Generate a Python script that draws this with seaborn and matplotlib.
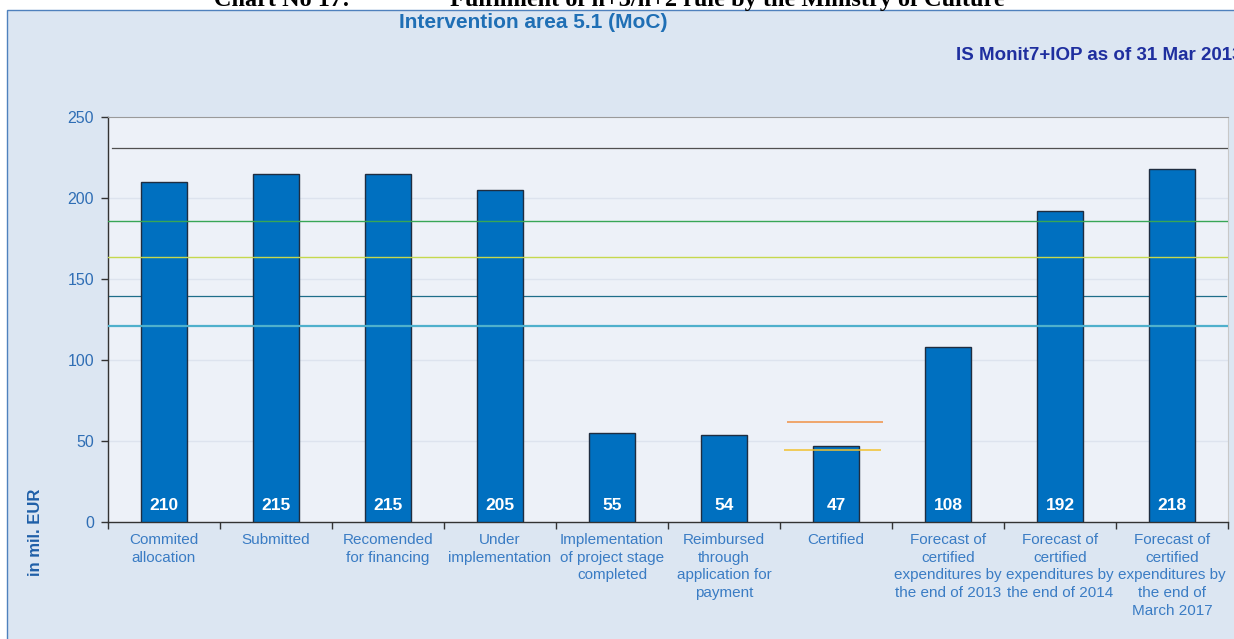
import matplotlib
matplotlib.use("Agg")
import matplotlib.pyplot as plt
import seaborn as sns
import pandas as pd
import numpy as np
from matplotlib.patches import Rectangle

categories = [
    "Commited\nallocation",
    "Submitted",
    "Recomended\nfor financing",
    "Under\nimplementation",
    "Implementation\nof project stage\ncompleted",
    "Reimbursed\nthrough\napplication for\npayment",
    "Certified",
    "Forecast of\ncertified\nexpenditures by\nthe end of 2013",
    "Forecast of\ncertified\nexpenditures by\nthe end of 2014",
    "Forecast of\ncertified\nexpenditures by\nthe end of\nMarch 2017",
]
values = [210, 215, 215, 205, 55, 54, 47, 108, 192, 218]
y_ticks = [0, 50, 100, 150, 200, 250]
# reference levels across the whole chart
level_black = 231
level_green = 186
level_yellowgreen = 163.5
level_teal = 139.5
level_cyan = 121
# reference levels at the "Certified" bar
level_orange = 62
level_gold = 44.5

sans = ["Liberation Sans", "DejaVu Sans"]
serif = ["Liberation Serif", "DejaVu Serif"]
plt.rcParams["font.family"] = sans

W, H = 1234, 639
fig = plt.figure(figsize=(W / 100, H / 100), dpi=100, facecolor="white")

# outer panel drawn in a background axes
bg = fig.add_axes([0, 0, 1, 1], zorder=-5)
bg.set_xlim(0, W)
bg.set_ylim(H, 0)
bg.axis("off")
bg.add_patch(Rectangle((7, 9.5), W, H, facecolor="#dce6f2", edgecolor="#4f81bd", linewidth=1.0))

ax = fig.add_axes([108 / W, 1 - 522 / H, (1228 - 108) / W, (522 - 117) / H], zorder=2)
ax.set_facecolor("#edf1f8")

df = pd.DataFrame({"cat": categories, "val": values})
sns.barplot(data=df, x="cat", y="val", ax=ax, color="#0070c0", saturation=1,
            width=0.41, edgecolor="#1f2d40", linewidth=1.0, zorder=3)

ax.set_xlim(-0.5, len(categories) - 0.5)
ax.set_ylim(0, 250)

# faint grid
for t in y_ticks[1:-1]:
    ax.axhline(t, color="#dde3ee", linewidth=1.0, zorder=1)

# reference lines
ax.axhline(level_black, xmin=0.004, xmax=1, color="#505050", linewidth=0.9, zorder=4)
ax.axhline(level_green, color="#38a656", linewidth=1.0, zorder=4)
ax.axhline(level_yellowgreen, color="#c6d84e", linewidth=1.0, zorder=4)
ax.axhline(level_teal, xmax=0.998, color="#1e6e8a", linewidth=0.9, zorder=2)
ax.axhline(level_cyan, color="#4fb0cc", linewidth=1.6, zorder=4)
ci = categories.index("Certified")
ax.hlines(level_orange, ci - 0.44, ci + 0.42, color="#f0a060", linewidth=1.3, zorder=4)
ax.hlines(level_gold, ci - 0.46, ci + 0.40, color="#f2c12e", linewidth=1.1, zorder=4)

# value labels
for i, v in enumerate(values):
    ax.text(i, 10, str(v), ha="center", va="center", color="white", fontsize=12.5,
            fontweight="bold", family=sans, zorder=5)

# axes styling
ax.set_yticks(y_ticks)
ax.set_yticklabels([str(t) for t in y_ticks], color="#2f6eb5", fontsize=11.5)
ax.tick_params(axis="y", direction="out", length=5, width=1, color="#333333", pad=5)
ax.set_xticks(range(len(categories)))
ax.set_xticklabels(categories, color="#3a7cc4", fontsize=11, linespacing=1.33)
ax.tick_params(axis="x", which="major", length=0, pad=8)
ax.set_xticks(np.arange(-0.5, len(categories), 1), minor=True)
ax.tick_params(axis="x", which="minor", direction="out", length=5, width=1, color="#333333")
ax.set_xlabel("")
ax.set_ylabel("")
for s in ["left", "bottom"]:
    ax.spines[s].set_color("#333333")
    ax.spines[s].set_linewidth(1.0)
ax.spines["top"].set_color("#9a9a9a")
ax.spines["right"].set_color("#c8c8c8")
ax.grid(False)

# texts
fig.text(35 / W, 1 - 532 / H, "in mil. EUR", rotation=90, ha="center", va="center",
         color="#1f5fa8", fontsize=12, fontweight="bold", family=sans)
fig.text(533 / W, 1 - 23 / H, "Intervention area 5.1 (MoC)", ha="center", va="center",
         color="#1f6fb5", fontsize=15, fontweight="bold", family=sans)
fig.text(956 / W, 1 - 55 / H, "IS Monit7+IOP as of 31 Mar 2013", ha="left", va="center",
         color="#1f2f9f", fontsize=13.5, fontweight="bold", family=sans)
fig.text(214 / W, 1 - 6 / H, "Chart No 17:", ha="left", va="baseline",
         color="black", fontsize=17.5, fontweight="bold", family=serif)
fig.text(450 / W, 1 - 6 / H, "Fulfilment of n+3/n+2 rule by the Ministry of Culture", ha="left",
         va="baseline", color="black", fontsize=17.5, fontweight="bold", family=serif)

fig.savefig("out.png", dpi=100, facecolor="white")
